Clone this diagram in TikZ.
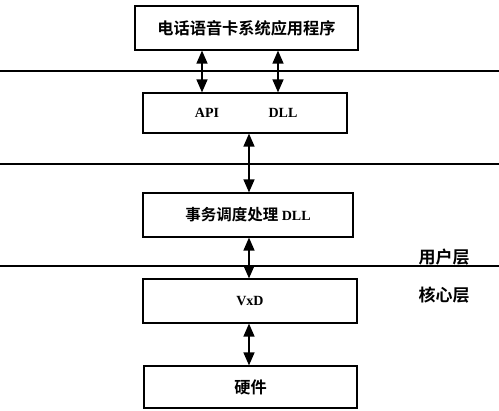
\documentclass[tikz,border=0pt]{standalone}
\usepackage{fontspec}
\setmainfont{Liberation Serif}
\newfontfamily\cjk{Noto Sans CJK SC}[BoldFont={* Bold}]
\usetikzlibrary{arrows.meta}
\begin{document}
\begin{tikzpicture}[x=1pt,y=-1pt,
  box/.style={draw,line width=1.2pt,rectangle,inner sep=0pt},
  arr/.style={line width=1.4pt,{Triangle[width=11pt,length=13pt]}-{Triangle[width=11pt,length=13pt]}},
  layer/.style={line width=1.3pt},
  cn/.style={font=\cjk\bfseries\fontsize{16.2}{18}\selectfont},
  lt/.style={font=\bfseries\fontsize{14}{16}\selectfont}]
\useasboundingbox (0,0) rectangle (499,411);
% separator lines
\draw[layer] (0,71) -- (499,71);
\draw[layer] (0,164) -- (499,164);
\draw[layer] (0,266) -- (499,266);
% boxes
\node[box,minimum width=223pt,minimum height=44pt,cn] (app) at (246.5,28) {电话语音卡系统应用程序};
\node[box,minimum width=204pt,minimum height=40pt] (api) at (245,113) {};
\node[lt] (apit) at (207,113) {API};
\node[lt] (dllt) at (283,113) {DLL};
\node[box,minimum width=210pt,minimum height=44pt] (sched) at (248,215) {\cjk\bfseries\fontsize{15.5}{17}\selectfont 事务调度处理 \rmfamily\bfseries\fontsize{14}{16}\selectfont DLL};
\node[box,minimum width=214pt,minimum height=44pt,lt] (vxd) at (250,301) {VxD};
\node[box,minimum width=213pt,minimum height=42pt,cn] (hw) at (250.5,387) {硬件};
% layer labels
\node[cn,font=\cjk\bfseries\fontsize{17}{19}\selectfont] (user) at (444,257) {用户层};
\node[cn,font=\cjk\bfseries\fontsize{17}{19}\selectfont] (kern) at (444,295) {核心层};
% arrows
\coordinate (a1) at (202,0);
\coordinate (a2) at (278,0);
\coordinate (a3) at (249,0);
\draw[arr] (app.south -| a1) -- (api.north -| a1);
\draw[arr] (app.south -| a2) -- (api.north -| a2);
\draw[arr] (api.south -| a3) -- (sched.north -| a3);
\draw[arr] (sched.south -| a3) -- (vxd.north -| a3);
\draw[arr] (vxd.south -| a3) -- (hw.north -| a3);
\end{tikzpicture}
\end{document}
